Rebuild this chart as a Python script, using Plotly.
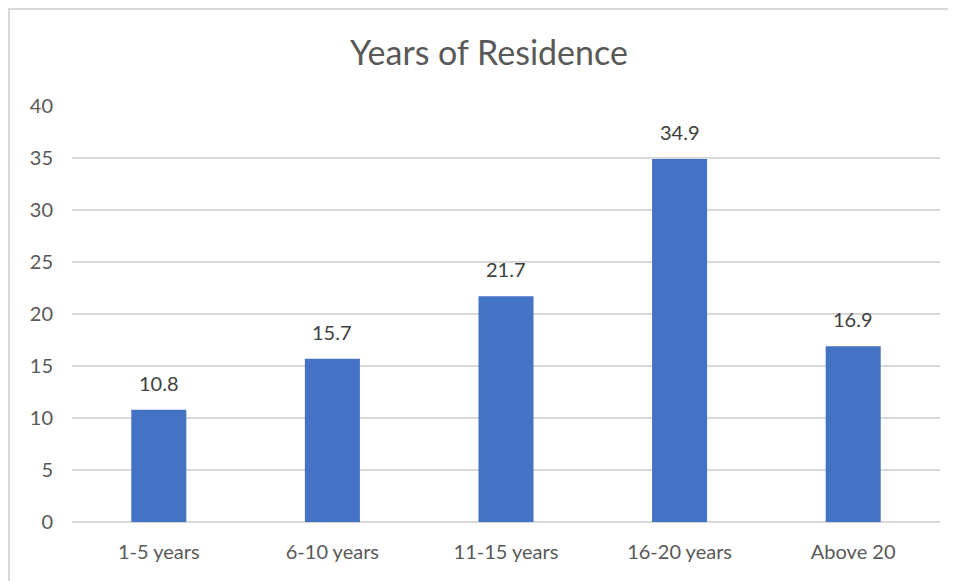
import plotly.graph_objects as go

categories = ["1-5 years", "6-10 years", "11-15 years", "16-20 years", "Above 20"]
values = [10.8, 15.7, 21.7, 34.9, 16.9]
y_ticks = [0, 5, 10, 15, 20, 25, 30, 35, 40]

W, H = 956, 581
# page body has an 8px offset, so margins are set in figure coordinates
L, R, T, B = 64, 24, 98, 67
pw, ph = W - L - R, H - T - B
FONT = "Lato, Noto Sans, sans-serif"

fig = go.Figure(go.Bar(
    x=categories, y=values,
    marker=dict(color="#4472C4", line=dict(width=0)),
    hoverinfo="x+y",
))

for c, v in zip(categories, values):
    fig.add_annotation(x=c, y=v, text=f"{v:.1f}", showarrow=False,
                       yanchor="middle", yshift=27,
                       font=dict(family=FONT, size=20, color="#404040"))

fig.update_layout(
    width=W, height=H,
    margin=dict(l=L, r=R, t=T, b=B),
    paper_bgcolor="white", plot_bgcolor="white",
    bargap=0.683,
    showlegend=False,
    title=dict(text="Years of Residence", x=481 / W, xanchor="center", y=1 - 45 / H, yanchor="middle",
               font=dict(family=FONT, size=34, color="#595959")),
    font=dict(family=FONT, size=20, color="#595959"),
    xaxis=dict(showgrid=False, showline=False, ticks="", ticklabelstandoff=16,
               tickfont=dict(size=20, color="#595959")),
    yaxis=dict(range=[0, 40], tickvals=y_ticks, showgrid=True, gridcolor="#D9D9D9", gridwidth=1.5,
               zeroline=True, zerolinecolor="#D9D9D9", zerolinewidth=1.5,
               showline=False, ticks="", ticklabelstandoff=18,
               tickfont=dict(size=20, color="#595959")),
    shapes=[dict(type="rect", xref="paper", yref="paper",
                 x0=(1 - L) / pw, x1=(W + 20 - L) / pw,
                 y0=-(B + 20) / ph, y1=(ph + T - 1) / ph,
                 line=dict(color="#D9D9D9", width=2), fillcolor="rgba(0,0,0,0)", layer="below")],
)

fig.write_html("out.html")
